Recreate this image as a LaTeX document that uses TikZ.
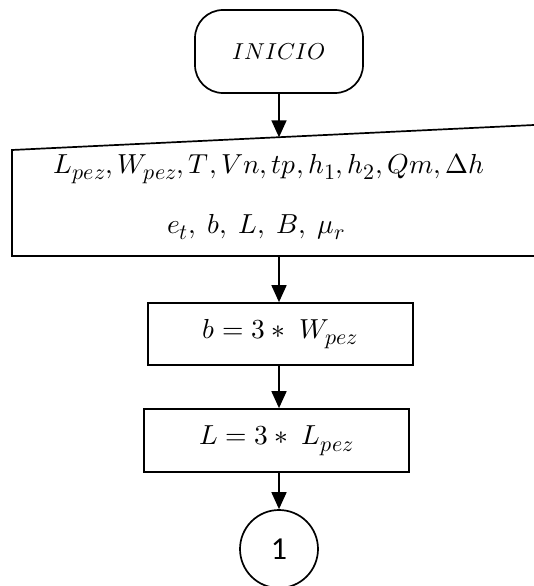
\documentclass[tikz,border=0pt]{standalone}
\usepackage{fontspec}
\usepackage{unicode-math}
\setmathfont{Latin Modern Math}
\usetikzlibrary{arrows.meta}
\newfontfamily\digitfont{Carlito}
\newcommand\subx[1]{_{\mbox{\fontsize{22}{22}\selectfont$#1$}}}
\begin{document}
\begin{tikzpicture}[x=1pt,y=-1pt, line width=1.7pt,
  arr/.style={-{Triangle[length=17pt,width=15pt]}, line width=1.7pt},
  procbox/.style={draw, minimum width=265pt, minimum height=63pt, inner sep=0pt},
  mtext/.style={font=\fontsize{27.5}{34}\selectfont, inner sep=0pt},
  termbox/.style={draw, rounded corners=28pt, minimum width=168pt, minimum height=83pt, inner sep=0pt, font=\fontsize{23}{27}\selectfont},
  connector/.style={draw, circle, minimum size=78pt, inner sep=0pt, font=\digitfont\fontsize{32}{36}\selectfont}
]
\useasboundingbox (0,0) rectangle (534,586);

% terminal
\node[termbox] (start) at (279,51.5) {$INICIO$};

% manual input shape (open at right edge)
\draw (534,125) -- (12,150) -- (12,256) -- (534,256);
\coordinate (intop) at (279,137.3);
\coordinate (inbot) at (279,256);
\node[mtext, anchor=base] (in1) at (269,173) {$L\subx{pez}, W\subx{pez}, T, Vn, tp, h\subx{1}, h\subx{2}, Qm, \Delta h$};
\node[mtext, anchor=base] (in2) at (256,233) {$e\subx{t},\hspace{7pt} b,\hspace{7pt} L,\hspace{7pt} B,\hspace{7pt} \mu\subx{r}$};

% process boxes
\node[procbox, mtext, minimum width=265pt, minimum height=62pt] (bbox) at (280.5,334) {$b = 3 \ast\; W\subx{pez}$};
\node[procbox, mtext, minimum width=265pt, minimum height=63pt] (lbox) at (276.5,440.5) {$L = 3 \ast\; L\subx{pez}$};

% connector
\node[connector] (con) at (279,549) {1};

% arrows
\draw[arr] (start.south) -- (intop);
\draw[arr] (inbot) -- (inbot |- bbox.north);
\draw[arr] (bbox.south -| inbot) -- (lbox.north -| inbot);
\draw[arr] (lbox.south -| inbot) -- (con.north);
\end{tikzpicture}
\end{document}
